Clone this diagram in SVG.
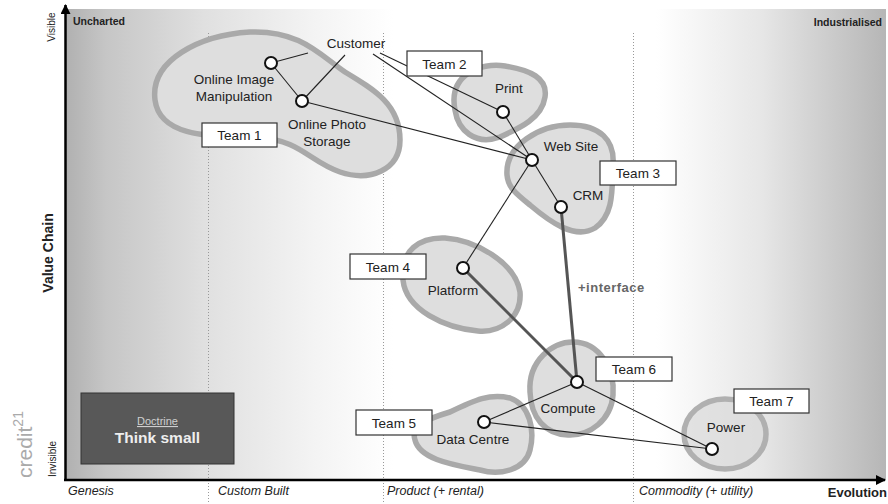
<svg xmlns="http://www.w3.org/2000/svg" width="888" height="504" viewBox="0 0 888 504">
<defs>
<linearGradient id="bg" x1="65" y1="0" x2="886" y2="0" gradientUnits="userSpaceOnUse">
<stop offset="0" stop-color="#b0b0b0"/>
<stop offset="0.05" stop-color="#c6c6c6"/>
<stop offset="0.17" stop-color="#e0e0e0"/>
<stop offset="0.3" stop-color="#f3f3f3"/>
<stop offset="0.4" stop-color="#ffffff"/>
<stop offset="0.72" stop-color="#ffffff"/>
<stop offset="0.85" stop-color="#e6e6e6"/>
<stop offset="1" stop-color="#b6b6b6"/>
</linearGradient>
<marker id="arr" viewBox="0 0 10 10" refX="9" refY="5" markerWidth="4" markerHeight="4" orient="auto" markerUnits="strokeWidth">
<path d="M0,0 L10,5 L0,10 Z" fill="#000"/>
</marker>
<style>
.t{font-family:"Liberation Sans",Arial,sans-serif;fill:#222}
.lbl{font-size:13.5px;text-anchor:middle}
.blob{fill:#dedede;stroke:#a9a9a9;stroke-width:5.5}
.c{fill:#fff;stroke:#111;stroke-width:2}
.tbox{fill:#fff;stroke:#333;stroke-width:1.2}
.ln{stroke:#222;stroke-width:1.1;fill:none}
.thick{stroke:#555;stroke-width:3;fill:none}
.dot{stroke:#999;stroke-width:1;stroke-dasharray:1 2}
.axl{font-size:12.5px;font-style:italic}
.bold{font-weight:bold}
</style>
</defs>
<rect x="65" y="9" width="821" height="471" fill="url(#bg)"/>
<g id="evolution-stages">
<line class="dot" x1="208.5" y1="33" x2="208.5" y2="504"/>
<line class="dot" x1="383.5" y1="33" x2="383.5" y2="504"/>
<line class="dot" x1="633.5" y1="33" x2="633.5" y2="504"/>
</g>
<g id="axes">
<line x1="65.5" y1="481" x2="65.5" y2="5" stroke="#000" stroke-width="2.5" marker-end="url(#arr)"/>
<line x1="64" y1="480" x2="885" y2="480" stroke="#000" stroke-width="2.5" marker-end="url(#arr)"/>
<text class="t bold" x="73" y="25" font-size="10.5">Uncharted</text>
<text class="t bold" x="882" y="26" font-size="10.5" text-anchor="end">Industrialised</text>
<text class="t" transform="translate(55,27) rotate(-90)" font-size="10" text-anchor="middle">Visible</text>
<text class="t" transform="translate(56,459) rotate(-90)" font-size="10" text-anchor="middle">Invisible</text>
<text class="t bold" transform="translate(53,253) rotate(-90)" font-size="14" text-anchor="middle">Value Chain</text>
<text class="t" transform="translate(32,478) rotate(-90)" font-size="21" style="fill:#aaa">credit<tspan font-size="14" dy="-9">21</tspan></text>
<text class="t axl" x="68" y="495">Genesis</text>
<text class="t axl" x="218" y="495">Custom Built</text>
<text class="t axl" x="387" y="495">Product (+ rental)</text>
<text class="t axl" x="639" y="495">Commodity (+ utility)</text>
<text class="t bold" x="887" y="497" font-size="13" text-anchor="end">Evolution</text>
</g>
<g id="territories">
<path class="blob" d="M155,100 C150,60 200,35 250,32 C300,30 320,55 345,72 C375,90 400,105 400,140 C400,170 370,182 340,172 C310,162 300,140 260,138 C220,136 160,140 155,100 Z"/>
<path class="blob" d="M455,110 C448,75 480,62 505,66 C530,70 548,78 545,97 C542,118 520,128 500,137 C475,146 458,130 455,110 Z"/>
<path class="blob" d="M507,175 C505,145 540,125 570,125 C600,125 615,140 613,165 C612,190 614,215 595,228 C575,240 550,222 530,205 C515,193 508,187 507,175 Z"/>
<path class="blob" d="M403,280 C400,250 420,237 445,238 C475,240 515,262 520,292 C522,318 500,333 478,331 C445,328 406,310 403,280 Z"/>
<path class="blob" d="M530,392 C528,360 553,342 573,342 C600,342 615,370 613,395 C611,420 590,436 568,435 C545,434 531,418 530,392 Z"/>
<path class="blob" d="M415,440 C410,425 430,418 450,412 C475,400 490,393 510,398 C530,405 535,430 530,450 C525,470 500,476 480,470 C455,465 420,460 415,440 Z"/>
<ellipse class="blob" cx="725" cy="434" rx="41" ry="35" style="fill:#d8d8d8;fill-opacity:0.7;stroke:#b0b0b0"/>
</g>
<g id="connectors">
<line class="ln" x1="308" y1="53" x2="271" y2="63"/>
<line class="ln" x1="345" y1="55" x2="302" y2="101"/>
<line class="ln" x1="373" y1="54" x2="532" y2="160"/>
<line class="ln" x1="380" y1="53" x2="503" y2="112"/>
<line class="ln" x1="271" y1="63" x2="302" y2="101"/>
<line class="ln" x1="302" y1="101" x2="532" y2="160"/>
<line class="ln" x1="503" y1="112" x2="532" y2="160"/>
<line class="ln" x1="532" y1="160" x2="561" y2="207"/>
<line class="ln" x1="532" y1="160" x2="463" y2="268"/>
<line class="thick" x1="561" y1="207" x2="577" y2="382"/>
<line class="thick" x1="463" y1="268" x2="577" y2="382"/>
<line class="ln" x1="577" y1="382" x2="484" y2="422"/>
<line class="ln" x1="577" y1="382" x2="712" y2="449"/>
<line class="ln" x1="484" y1="422" x2="712" y2="449"/>
<text class="t bold" x="578" y="292" font-size="13" letter-spacing="0.5" style="fill:#666">+interface</text>
</g>
<g id="customer"><text class="t lbl" x="356" y="48">Customer</text></g>
<g id="online-image-manipulation"><circle class="c" cx="271" cy="63" r="6"/><text class="t lbl" x="234" y="84">Online Image</text><text class="t lbl" x="234" y="101">Manipulation</text></g>
<g id="online-photo-storage"><circle class="c" cx="302" cy="101" r="6"/><text class="t lbl" x="327" y="129">Online Photo</text><text class="t lbl" x="327" y="146">Storage</text></g>
<g id="print"><circle class="c" cx="503" cy="112" r="6"/><text class="t lbl" x="509" y="93">Print</text></g>
<g id="web-site"><circle class="c" cx="532" cy="160" r="6"/><text class="t lbl" x="571" y="151">Web Site</text></g>
<g id="crm"><circle class="c" cx="561" cy="207" r="6"/><text class="t lbl" x="588" y="200">CRM</text></g>
<g id="platform"><circle class="c" cx="463" cy="268" r="6"/><text class="t lbl" x="453" y="295">Platform</text></g>
<g id="compute"><circle class="c" cx="577" cy="382" r="6"/><text class="t lbl" x="568" y="413">Compute</text></g>
<g id="data-centre"><circle class="c" cx="484" cy="422" r="6"/><text class="t lbl" x="473" y="444">Data Centre</text></g>
<g id="power"><circle class="c" cx="712" cy="449" r="6"/><text class="t lbl" x="726" y="432">Power</text></g>
<g id="team-1"><rect class="tbox" x="202" y="123" width="75" height="24"/><text class="t lbl" x="239.5" y="140">Team 1</text></g>
<g id="team-2"><rect class="tbox" x="407" y="51" width="75" height="25"/><text class="t lbl" x="444.5" y="68.5">Team 2</text></g>
<g id="team-3"><rect class="tbox" x="600" y="161" width="76" height="24"/><text class="t lbl" x="638" y="178">Team 3</text></g>
<g id="team-4"><rect class="tbox" x="350" y="254" width="76" height="25"/><text class="t lbl" x="388" y="271.5">Team 4</text></g>
<g id="team-5"><rect class="tbox" x="356" y="410" width="76" height="25"/><text class="t lbl" x="394" y="427.5">Team 5</text></g>
<g id="team-6"><rect class="tbox" x="596" y="357" width="76" height="24"/><text class="t lbl" x="634" y="374">Team 6</text></g>
<g id="team-7"><rect class="tbox" x="734" y="389" width="75" height="24"/><text class="t lbl" x="771.5" y="406">Team 7</text></g>
<g id="doctrine">
<rect x="81" y="393" width="153" height="71" fill="#585858" stroke="#333" stroke-width="1"/>
<text class="t" x="157.5" y="425" font-size="11" text-anchor="middle" text-decoration="underline" style="fill:#cfcfcf">Doctrine</text>
<text class="t bold" x="157.5" y="443" font-size="15.5" text-anchor="middle" style="fill:#eeeeee">Think small</text>
</g>
</svg>
